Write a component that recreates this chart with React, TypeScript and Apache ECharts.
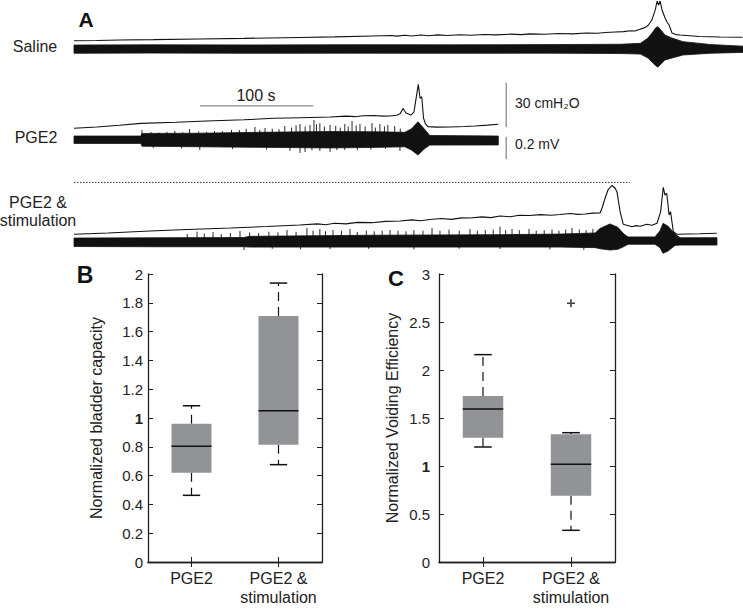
import React, { useEffect, useRef } from 'react';
import * as echarts from 'echarts';

const FONT = '"Liberation Sans", Arial, Helvetica, sans-serif';
const INK = '#111111';

// ---------- Panel A: traces (time in s, pressure in cmH2O, EMG in mV) ----------
const salinePressure = [
  [0, 4.9], [20, 5.0], [40, 5.4], [70, 5.6], [111, 6.1], [150, 6.5], [199, 7.1], [230, 7.5], [263, 8.1],
  [280, 8.4], [285, 8.0], [292, 8.6], [298, 8.1], [306, 8.7], [313, 8.2], [321, 8.8], [330, 8.4], [340, 8.9],
  [350, 8.6], [362, 9.1], [372, 8.8], [385, 9.3], [395, 9.0], [402, 9.5], [415, 9.2], [428, 9.8], [440, 9.5],
  [452, 10.1], [462, 9.9], [469, 10.4], [478, 10.8], [485, 11.0], [491, 11.6], [495, 11.4], [499, 12.4],
  [502, 13.2], [505, 14.2], [507, 15.5], [510, 18.8], [513, 25.6], [514.7, 31.6], [516, 28.9], [517.3, 31.6],
  [519, 25.6], [521.7, 20.2], [523.4, 17.5], [525.2, 15.5], [527.8, 10.1], [531, 9.0], [535, 8.7],
  [552, 7.7], [570, 7.4], [590, 7.2],
];
const salineEmg = [
  [0, 0.035, -0.038], [67, 0.037, -0.036], [155, 0.036, -0.038], [244, 0.038, -0.037], [332, 0.037, -0.038],
  [420, 0.039, -0.037], [482, 0.042, -0.04], [500, 0.05, -0.045], [506.6, 0.097, -0.08], [510, 0.14, -0.115],
  [513.7, 0.19, -0.15], [515.4, 0.197, -0.16], [518, 0.168, -0.133], [521.6, 0.124, -0.097],
  [527.8, 0.097, -0.08], [537.5, 0.065, -0.053], [561.3, 0.04, -0.038], [590.5, 0.025, -0.03],
];

const pge2Pressure = [
  [0, 5.2], [20, 6.1], [40, 7.2], [59, 8.5], [90, 9.2], [117, 10.1], [150, 10.9], [176, 11.9], [200, 12.3],
  [226, 12.8], [240, 13.4], [248, 13.0], [255, 13.6], [265, 13.8], [272, 13.4], [279, 13.5], [285, 14.0],
  [288, 15.1], [290.4, 18.5], [293, 15.5], [297.4, 14.1], [300, 16], [301, 20.8], [302.5, 28], [303.9, 34.8],
  [305.4, 25.4], [306.9, 26.4], [308.5, 12.1], [310, 8.5], [312.4, 6.3], [320, 6.0], [332, 6.1], [345, 6.4],
  [354, 6.7], [365, 7.3], [374.5, 7.9],
];
const pge2Emg = [
  [0, 0.035, -0.03], [59, 0.035, -0.03], [60, 0.058, -0.055], [111, 0.06, -0.06], [164, 0.068, -0.065],
  [226, 0.075, -0.07], [270, 0.072, -0.065], [292, 0.068, -0.06], [298, 0.1, -0.09], [303.6, 0.162, -0.133],
  [309, 0.1, -0.08], [314, 0.04, -0.045], [374.5, 0.035, -0.044],
];
const pge2SpikesUp = [
  [60, 0.088], [68, 0.07], [75, 0.065], [82, 0.072], [89, 0.08], [96, 0.068], [102, 0.097], [110, 0.075],
  [117, 0.07], [124, 0.08], [131, 0.078], [139, 0.09], [146, 0.088], [152, 0.1], [159.7, 0.115], [164, 0.09],
  [168.6, 0.106], [175, 0.1], [181, 0.095], [186, 0.124], [192, 0.11], [196, 0.13], [199.5, 0.142], [204, 0.12],
  [208.3, 0.133], [211.8, 0.177], [214, 0.14], [217, 0.15], [221, 0.12], [226, 0.133], [231, 0.125], [235, 0.11],
  [239, 0.142], [242, 0.12], [245.4, 0.168], [249, 0.13], [252.4, 0.142], [257, 0.12], [263, 0.15], [266, 0.11],
  [270, 0.142], [274, 0.12], [277, 0.133], [283, 0.124], [288, 0.1],
];
const pge2SpikesDown = [
  [70, -0.07], [95, -0.075], [111, -0.088], [140, -0.08], [170, -0.085], [190.6, -0.097], [199.5, -0.115],
  [203.9, -0.106], [210, -0.09], [217, -0.097], [226, -0.106], [232, -0.09], [239, -0.088], [250, -0.09],
  [262, -0.085], [275, -0.08], [287.7, -0.097],
];

const stimPressure = [
  [0, 5.2], [30, 6.1], [67, 7.4], [100, 8.4], [138, 9.4], [170, 10.4], [199, 11.4], [215, 12.2], [222, 11.6],
  [230, 12.6], [240, 12.2], [250, 13.2], [263, 13.0], [275, 13.9], [288, 14.1], [298, 14.9], [306, 14.3],
  [314, 15.1], [324, 15.8], [333, 15.2], [342, 16.2], [350, 16.1], [360, 16.9], [368, 16.4], [376, 17.5],
  [385, 17.0], [393, 18.0], [402, 17.8], [412, 18.4], [421, 18.0], [429, 18.5], [438, 19.2], [445, 18.6],
  [451, 18.8], [458, 19.4], [464.3, 19.5], [466, 22.7], [468.7, 29.4], [471.3, 35.0], [474.8, 38.0],
  [477.5, 36.3], [479.3, 33.6], [482, 20.4], [484.8, 11.9], [492.5, 10.3], [496, 11.0], [499.6, 10.6],
  [505.7, 11.9], [510, 11.3], [514.6, 12.6], [517.8, 20.4], [520.1, 36.8], [521.6, 31.6], [523.1, 32.8],
  [524.3, 24.9], [525.2, 18.2], [526.5, 20.4], [529, 6.9], [532.2, 5.2], [552.5, 5.5], [567.2, 5.9],
];
const stimEmg = [
  [0, 0.035, -0.04], [67, 0.037, -0.042], [150, 0.04, -0.042], [155, 0.05, -0.045], [263, 0.06, -0.045],
  [376, 0.065, -0.045], [429, 0.07, -0.045], [460, 0.08, -0.05], [464.3, 0.12, -0.06], [473, 0.16, -0.071],
  [480, 0.13, -0.065], [485.4, 0.07, -0.04], [489, 0.045, -0.02], [512.8, 0.045, -0.02], [517.2, 0.1, -0.05],
  [519.9, 0.165, -0.1], [524.3, 0.14, -0.08], [530.5, 0.07, -0.03], [535, 0.038, -0.027], [567.5, 0.038, -0.027],
];
const stimSpikesUp = [
  [100, 0.07], [108.6, 0.091], [115, 0.075], [122.7, 0.088], [130, 0.07], [138, 0.08], [146.5, 0.097],
  [155, 0.085], [163, 0.08], [172, 0.09], [180, 0.085], [188, 0.106], [196, 0.09], [205.6, 0.124], [211, 0.1],
  [217, 0.115], [222, 0.095], [228.6, 0.106], [236, 0.1], [243.6, 0.115], [250, 0.09], [258, 0.1], [265, 0.095],
  [272, 0.1], [278.9, 0.106], [286, 0.1], [293, 0.095], [300, 0.105], [308, 0.1], [316, 0.124], [323, 0.1],
  [331, 0.11], [340, 0.1], [349.5, 0.115], [356, 0.1], [363, 0.105], [370, 0.11], [376, 0.135], [381, 0.105],
  [386.6, 0.115], [393, 0.105], [401.6, 0.115], [408, 0.1], [415, 0.105], [421.9, 0.11], [428, 0.1],
  [434, 0.11], [439.5, 0.124], [446, 0.11], [452, 0.105], [458, 0.115],
];
const stimSpikesDown = [
  [150, -0.071], [175, -0.06], [200, -0.065], [226, -0.062], [260, -0.06], [300, -0.065], [340, -0.06],
  [376, -0.062], [420, -0.065], [450, -0.07],
];

// dotted reference level (cmH2O) in the stimulation row, from t=0 to refEnd s
const refLevel = 40.1;
const refEnd = 490.7;

// scale bars
const TIME_BAR = 100; // s
const PRESSURE_BAR = 30; // cmH2O
const EMG_BAR = 0.2; // mV

// ---------- Panels B and C: box plots ----------
const groups = ['PGE2', 'PGE2 &\nstimulation'];
// [min, q1, median, q3, max]
const capacityStats = [
  [0.463, 0.62, 0.803, 0.96, 1.085],
  [0.676, 0.815, 1.051, 1.708, 1.937],
];
const efficiencyStats = [
  [1.198, 1.295, 1.594, 1.73, 2.16],
  [0.33, 0.69, 1.018, 1.33, 1.347],
];
const efficiencyOutliers = [[1, 2.695]];

// ---------- layout helpers ----------
const PX_T = 1.133; // px per s
const PX_P = 44.6 / 30; // px per cmH2O
const PX_E = 22.6 / 0.2; // px per mV
const TRACE_LEFT = 74;
const rows = [
  { top: 0, height: 75, pZero: 48, eZero: 49 },
  { top: 75, height: 90, pZero: 136, eZero: 140 },
  { top: 175, height: 85, pZero: 242, eZero: 242 },
];
const T_MAX = (743 - TRACE_LEFT) / PX_T;

function range(top: number, height: number, zero: number, px: number) {
  return { min: -(top + height - zero) / px, max: (zero - top) / px };
}

function pressureSeries(data: number[][], row: number) {
  return {
    type: 'line', xAxisIndex: row, yAxisIndex: row * 2, data, showSymbol: false, silent: true,
    lineStyle: { color: INK, width: 1.1 }, z: 3,
  };
}
function bandSeries(env: number[][], row: number) {
  return {
    type: 'custom', xAxisIndex: row, yAxisIndex: row * 2 + 1, data: env, silent: true,
    encode: { x: 0, y: [1, 2] }, z: 2,
    renderItem: (params: any, api: any) => {
      if (params.dataIndex !== 0) return null;
      const top = env.map((d) => api.coord([d[0], d[1]]));
      const bot = env.slice().reverse().map((d) => api.coord([d[0], d[2]]));
      return {
        type: 'polygon', shape: { points: top.concat(bot) },
        style: { fill: INK, stroke: INK, lineWidth: 0.8 },
      };
    },
  };
}
function spikeSeries(data: number[][], row: number) {
  return {
    type: 'custom', xAxisIndex: row, yAxisIndex: row * 2 + 1, data, silent: true,
    encode: { x: 0, y: 1 }, z: 2,
    renderItem: (params: any, api: any) => {
      const a = api.coord([api.value(0), 0]);
      const b = api.coord([api.value(0), api.value(1)]);
      return { type: 'line', shape: { x1: a[0], y1: a[1], x2: b[0], y2: b[1] }, style: { stroke: INK, lineWidth: 0.9 } };
    },
  };
}
function boxSeries(stats: number[][], xi: number, yi: number) {
  return {
    type: 'custom', xAxisIndex: xi, yAxisIndex: yi, silent: true, z: 5,
    data: stats.map((s, i) => [i, ...s]),
    encode: { x: 0, y: [1, 2, 3, 4, 5] },
    renderItem: (params: any, api: any) => {
      const c = api.value(0);
      const bw = api.size([1, 0])[0];
      const half = bw * 0.23;
      const capHalf = bw * 0.1;
      const [cx, yMin] = api.coord([c, api.value(1)]);
      const yQ1 = api.coord([c, api.value(2)])[1];
      const yMed = api.coord([c, api.value(3)])[1];
      const yQ3 = api.coord([c, api.value(4)])[1];
      const yMax = api.coord([c, api.value(5)])[1];
      const dash = { stroke: INK, lineWidth: 1.2, lineDash: [9, 6] };
      const solid = { stroke: INK, lineWidth: 1.5 };
      return {
        type: 'group',
        children: [
          { type: 'line', shape: { x1: cx, y1: yQ3, x2: cx, y2: yMax }, style: dash },
          { type: 'line', shape: { x1: cx, y1: yQ1, x2: cx, y2: yMin }, style: dash },
          { type: 'line', shape: { x1: cx - capHalf, y1: yMax, x2: cx + capHalf, y2: yMax }, style: solid },
          { type: 'line', shape: { x1: cx - capHalf, y1: yMin, x2: cx + capHalf, y2: yMin }, style: solid },
          { type: 'rect', shape: { x: cx - half, y: yQ3, width: half * 2, height: yQ1 - yQ3 }, style: { fill: '#929396' } },
          { type: 'line', shape: { x1: cx - half, y1: yMed, x2: cx + half, y2: yMed }, style: solid },
        ],
      };
    },
  };
}

const axisColor = '#231f20';
function boxAxes(min: number, max: number, interval: number, name: string, nameGap: number, labelMargin: number) {
  const x = [
    {
      type: 'category', data: groups, position: 'bottom', boundaryGap: true,
      axisLine: { show: true, lineStyle: { color: axisColor, width: 1.3 } },
      axisTick: { show: true, inside: true, alignWithLabel: true, length: 5, lineStyle: { color: axisColor } },
      axisLabel: { interval: 0, fontSize: 16, color: '#222', fontFamily: FONT, lineHeight: 19, margin: 7, hideOverlap: false },
    },
    {
      type: 'category', data: groups, position: 'top', boundaryGap: true,
      axisLine: { show: true, lineStyle: { color: axisColor, width: 1.3 } },
      axisTick: { show: true, inside: true, alignWithLabel: true, length: 5, lineStyle: { color: axisColor } },
      axisLabel: { show: false },
    },
  ];
  const y = [
    {
      type: 'value', min, max, interval, position: 'left', name, nameLocation: 'middle', nameGap,
      nameTextStyle: { fontSize: 16, color: '#222', fontFamily: FONT },
      splitLine: { show: false },
      axisLine: { show: true, lineStyle: { color: axisColor, width: 1.3 } },
      axisTick: { show: true, inside: true, length: 5, lineStyle: { color: axisColor } },
      axisLabel: {
        fontSize: 15, color: '#222', fontFamily: FONT, margin: labelMargin,
        formatter: (v: number) => (Math.abs(v - 1) < 1e-9 ? '{b|1}' : String(+v.toFixed(1))),
        rich: { b: { fontWeight: 'bold', fontSize: 15, color: '#222', fontFamily: FONT } },
      },
    },
    {
      type: 'value', min, max, interval, position: 'right',
      splitLine: { show: false },
      axisLine: { show: true, lineStyle: { color: axisColor, width: 1.3 } },
      axisTick: { show: true, inside: true, length: 5, lineStyle: { color: axisColor } },
      axisLabel: { show: false },
    },
  ];
  return { x, y };
}

function txt(text: string, x: number, y: number, size: number, opts: any = {}) {
  return {
    type: 'text', x, y, silent: true,
    style: {
      text, fontSize: size, fontFamily: FONT, fill: opts.fill || '#222', fontWeight: opts.bold ? 'bold' : 'normal',
      align: opts.align || 'center', verticalAlign: 'middle',
    },
  };
}

export default function App() {
  const ref = useRef<HTMLDivElement>(null);
  useEffect(() => {
    if (!ref.current) return;
    const chart = echarts.init(ref.current, undefined, { renderer: 'svg' });

    const grids: any[] = rows.map((r) => ({ left: TRACE_LEFT, top: r.top, width: 743 - TRACE_LEFT, height: r.height }));
    grids.push({ left: 148, top: 274, width: 174, height: 288 });
    grids.push({ left: 439, top: 274, width: 176, height: 288 });

    const xAxes: any[] = rows.map((_, i) => ({ type: 'value', gridIndex: i, min: 0, max: T_MAX, show: false }));
    const yAxes: any[] = [];
    rows.forEach((r, i) => {
      const p = range(r.top, r.height, r.pZero, PX_P);
      const e = range(r.top, r.height, r.eZero, PX_E);
      yAxes.push({ type: 'value', gridIndex: i, min: p.min, max: p.max, show: false });
      yAxes.push({ type: 'value', gridIndex: i, min: e.min, max: e.max, show: false });
    });
    const bAx = boxAxes(0, 2, 0.2, 'Normalized bladder capacity', 44, 5);
    const cAx = boxAxes(0, 3, 0.5, 'Normalized Voiding Efficiency', 39, 9);
    bAx.x.forEach((a) => xAxes.push({ ...a, gridIndex: 3 }));
    cAx.x.forEach((a) => xAxes.push({ ...a, gridIndex: 4 }));
    bAx.y.forEach((a) => yAxes.push({ ...a, gridIndex: 3 }));
    cAx.y.forEach((a) => yAxes.push({ ...a, gridIndex: 4 }));

    // scale bar anchors (row 1)
    const barT0 = 111.2;
    const barP = 20.2;
    const barX = 381.5;
    const barP0 = 5.85;
    const barE0 = -0.171;
    const grey = '#8a8a8a';

    const series: any[] = [
      bandSeries(salineEmg, 0),
      pressureSeries(salinePressure, 0),
      bandSeries(pge2Emg, 1),
      spikeSeries(pge2SpikesUp, 1),
      spikeSeries(pge2SpikesDown, 1),
      pressureSeries(pge2Pressure, 1),
      bandSeries(stimEmg, 2),
      spikeSeries(stimSpikesUp, 2),
      spikeSeries(stimSpikesDown, 2),
      pressureSeries(stimPressure, 2),
      {
        type: 'line', xAxisIndex: 2, yAxisIndex: 4, showSymbol: false, silent: true,
        data: [[0, refLevel], [refEnd, refLevel]],
        lineStyle: { color: '#333', width: 1, type: [1.5, 1.5] },
      },
      {
        type: 'line', xAxisIndex: 1, yAxisIndex: 2, showSymbol: false, silent: true,
        data: [[barT0, barP], [barT0 + TIME_BAR, barP]], lineStyle: { color: grey, width: 1.3 },
      },
      {
        type: 'line', xAxisIndex: 1, yAxisIndex: 2, showSymbol: false, silent: true,
        data: [[barX, barP0], [barX, barP0 + PRESSURE_BAR]], lineStyle: { color: grey, width: 1.3 },
      },
      {
        type: 'line', xAxisIndex: 1, yAxisIndex: 3, showSymbol: false, silent: true,
        data: [[barX, barE0], [barX, barE0 + EMG_BAR]], lineStyle: { color: grey, width: 1.3 },
      },
      boxSeries(capacityStats, 3, 6),
      boxSeries(efficiencyStats, 5, 8),
      {
        type: 'scatter', xAxisIndex: 5, yAxisIndex: 8, data: efficiencyOutliers, silent: true, z: 6,
        symbol: 'path://M4,0h2v4h4v2h-4v4h-2v-4h-4v-2h4z', symbolSize: 8,
        itemStyle: { color: INK },
      },
    ];

    chart.setOption({
      animation: false,
      backgroundColor: '#ffffff',
      textStyle: { fontFamily: FONT },
      grid: grids,
      xAxis: xAxes,
      yAxis: yAxes,
      series,
      graphic: [
        txt('A', 86, 19, 21, { bold: true, fill: '#111' }),
        txt('B', 85, 275, 23, { bold: true, fill: '#111' }),
        txt('C', 396, 278, 22, { bold: true, fill: '#111' }),
        txt('Saline', 35, 46, 16),
        txt('PGE2', 36, 137, 16),
        txt('PGE2 &', 38, 202, 16),
        txt('stimulation', 38, 220, 16),
        txt('100 s', 256, 95, 16),
        txt('30 cmH\u2082O', 515, 103, 14, { align: 'left' }),
        txt('0.2 mV', 515, 144, 14, { align: 'left' }),
      ],
    });
    return () => chart.dispose();
  }, []);
  return <div ref={ref} style={{ position: 'absolute', left: 0, top: 0, width: 743, height: 609, background: '#fff' }} />;
}
